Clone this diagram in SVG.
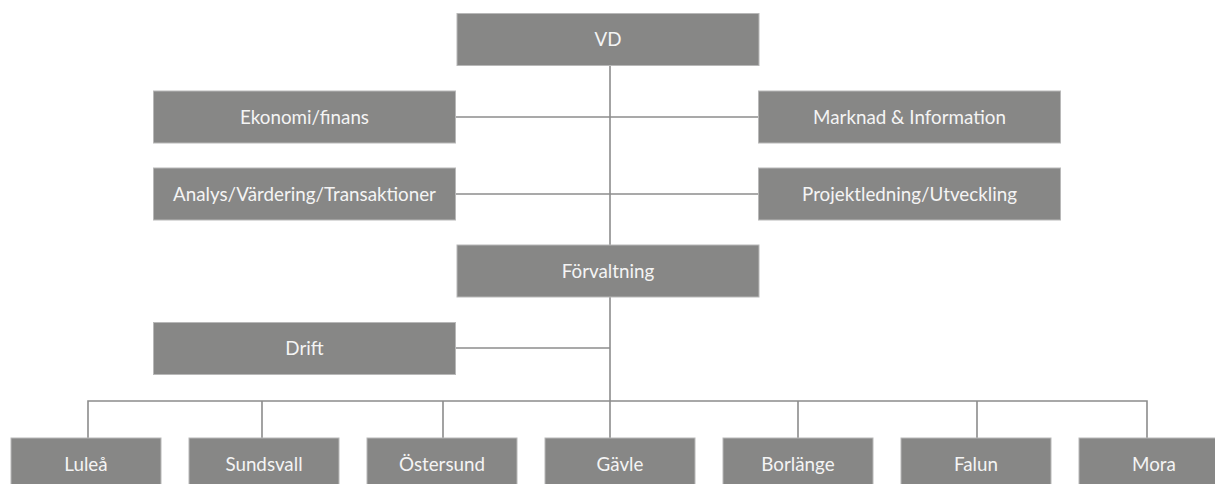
<svg xmlns="http://www.w3.org/2000/svg" width="1215" height="484" viewBox="0 0 1215 484">
<style>
.box{fill:#878786;stroke:#b8b8b8;stroke-width:1}
.lbl{font-family:Lato,"Open Sans",sans-serif;font-size:18.8px;fill:#f4f4f4;text-anchor:middle}
.ln{stroke:#8c8c8c;stroke-width:1.6;fill:none}
</style>
<rect width="1215" height="484" fill="#ffffff"/>
<g id="connectors">
<path class="ln" d="M610 66V401"/>
<path class="ln" d="M456 117H758"/>
<path class="ln" d="M456 194H758"/>
<path class="ln" d="M456 348H610"/>
<path class="ln" d="M88 438V401H1147V438"/>
<path class="ln" d="M262 401V438M443 401V438M610 401V438M798 401V438M977 401V438"/>
</g>
<g id="vd"><rect class="box" x="457" y="13.5" width="302" height="52"/><text class="lbl" x="608" y="46">VD</text></g>
<g id="ekonomi"><rect class="box" x="153.5" y="91" width="302" height="52"/><text class="lbl" x="304.5" y="123.5">Ekonomi/finans</text></g>
<g id="marknad"><rect class="box" x="758.5" y="91" width="302" height="52"/><text class="lbl" x="909.5" y="123.5">Marknad &amp; Information</text></g>
<g id="analys"><rect class="box" x="153.5" y="168" width="302" height="52"/><text class="lbl" x="304.5" y="200.5">Analys/Värdering/Transaktioner</text></g>
<g id="projekt"><rect class="box" x="758.5" y="168" width="302" height="52"/><text class="lbl" x="909.5" y="200.5">Projektledning/Utveckling</text></g>
<g id="forvaltning"><rect class="box" x="457" y="245" width="302" height="52"/><text class="lbl" x="608" y="277.5">Förvaltning</text></g>
<g id="drift"><rect class="box" x="153.5" y="322.5" width="302" height="52"/><text class="lbl" x="304.5" y="354.5">Drift</text></g>
<g id="lulea"><rect class="box" x="11" y="438" width="150" height="52"/><text class="lbl" x="86" y="470.5">Luleå</text></g>
<g id="sundsvall"><rect class="box" x="189" y="438" width="150" height="52"/><text class="lbl" x="264" y="470.5">Sundsvall</text></g>
<g id="ostersund"><rect class="box" x="367" y="438" width="150" height="52"/><text class="lbl" x="442" y="470.5">Östersund</text></g>
<g id="gavle"><rect class="box" x="545" y="438" width="150" height="52"/><text class="lbl" x="620" y="470.5">Gävle</text></g>
<g id="borlange"><rect class="box" x="723" y="438" width="150" height="52"/><text class="lbl" x="798" y="470.5">Borlänge</text></g>
<g id="falun"><rect class="box" x="901" y="438" width="150" height="52"/><text class="lbl" x="976" y="470.5">Falun</text></g>
<g id="mora"><rect class="box" x="1079" y="438" width="150" height="52"/><text class="lbl" x="1154" y="470.5">Mora</text></g>
</svg>
